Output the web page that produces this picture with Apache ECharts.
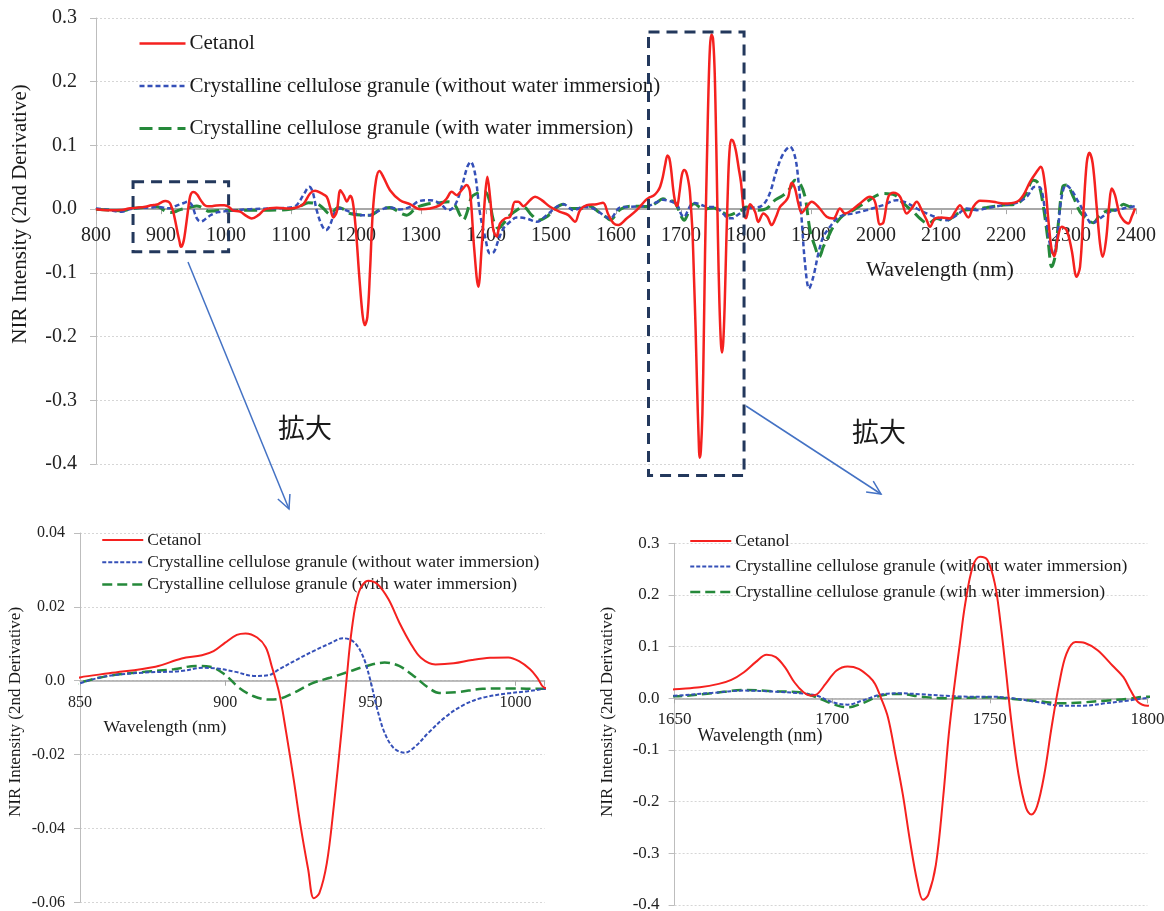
<!DOCTYPE html>
<html><head><meta charset="utf-8">
<script src="https://cdn.jsdelivr.net/npm/echarts@6/dist/echarts.min.js"></script>
<style>html,body{margin:0;padding:0;background:#fff}#c{width:1164px;height:911px}</style>
</head><body><div id="c"></div>
<script>
// ---------------- data ----------------
const seriesNames = ['Cetanol',
  'Crystalline cellulose granule (without water immersion)',
  'Crystalline cellulose granule (with water immersion)'];

// wavelength (nm), 2nd-derivative NIR intensity
const cetanol = [
[800,0],[821,-0.0016],[840,-0.0012],
[850,0.0009],[860,0.002],[876,0.0038],[885,0.006],[892,0.0069],[896,0.008],[900,0.0103],[904,0.0124],[907,0.0128],[911,0.0117],[914,0.009],[916,0.004],[918.6,-0.0033],[921,-0.014],[923.6,-0.0268],[926,-0.0395],[928.6,-0.0512],[930.5,-0.0589],[932.4,-0.0576],[935,-0.0494],[937.4,-0.034],[940,-0.0141],[941.8,0.0004],[943.6,0.0139],[946,0.0239],[949.3,0.0271],[952.4,0.0262],[956.2,0.0221],[960,0.0157],[963.7,0.0103],[967.4,0.0062],[972.4,0.0044],[978.7,0.0047],[985,0.0056],[991.2,0.0062],[997.5,0.0063],[1001.2,0.0053],[1005,0.0031],[1007.5,0.0008],[1010,-0.0019],
[1021.6,-0.004],[1031.8,-0.011],[1039.5,-0.0147],[1049.8,-0.0094],[1060,-0.0005],[1078,0.002],[1098.5,0.001],[1108.7,0.0026],[1119,0.0078],[1129.3,0.0246],[1137,0.0288],[1147.2,0.0246],[1154.9,0.0194],[1160,0.0037],[1165.2,-0.013],[1170.3,-0.0042],[1176,0.0298],[1181,0.022],[1186,0.012],[1191,0.021],[1195,0.012],[1200,-0.035],[1205,-0.105],[1210,-0.165],[1213.5,-0.182],[1217.5,-0.169],[1221.6,-0.096],[1225.7,-0.0068],[1230.8,0.0455],[1236,0.06],[1242,0.0508],[1252.3,0.0298],[1267.7,0.0141],[1283,0.0078],[1298.5,0.0],[1313.9,0.001],[1329.3,0.0063],[1339.5,0.0167],[1347.2,0.0272],[1354.9,0.022],[1362.6,0.0298],[1370.3,0.0377],[1375.4,0.0272],[1381.6,-0.059],[1388.2,-0.122],[1393.4,-0.059],[1398.5,0.0194],[1402.1,0.0508],[1406.2,0.0194],[1411.3,-0.033],[1416.4,-0.043],[1421.6,-0.0225],[1429.3,-0.0147],[1437,-0.012],[1444.6,0.0115],[1449.8,0.0115],[1457.5,0.0047],[1467.7,0.0141],[1475.4,0.0194],[1485.7,0.0141],[1498.5,0.0037],[1513.9,-0.0042],[1526.7,-0.0094],[1537,-0.0199],[1544.6,-0.0016],[1554.9,0.0063],[1570.3,0.0078],[1580,0.01],[1588,-0.008],[1596,-0.022],[1603.6,-0.025],[1616.4,-0.0147],[1631.8,-0.0016],[1645,0.0135],
[1650,0.0175],[1658,0.0214],[1664,0.0279],[1668,0.0356],[1672,0.0505],[1675.7,0.07],[1679.2,0.0843],[1682.1,0.0797],[1685,0.0603],[1688,0.0311],[1690.9,0.0117],[1693.2,0.0052],[1695,0.0071],[1697.9,0.0279],[1701.4,0.0538],[1704.9,0.0616],[1708.4,0.057],[1711.9,0.0408],[1713.6,0.0279],[1715.4,0.002],[1717.7,-0.037],[1720,-0.108],[1722.4,-0.186],[1724.7,-0.277],[1727,-0.355],[1728.8,-0.39],[1730.5,-0.38],[1732.9,-0.322],[1735.2,-0.192],[1737,-0.069],[1738.7,0.021],[1740.5,0.106],[1742.2,0.183],[1744.6,0.255],[1746.9,0.274],[1749.2,0.268],[1751.6,0.222],[1753.3,0.151],[1755.1,0.054],[1756.8,-0.043],[1759.1,-0.147],[1761.5,-0.212],[1763.2,-0.225],[1765,-0.209],[1767.3,-0.147],[1769.6,-0.056],[1772,0.028],[1774.3,0.086],[1777.2,0.109],[1780.2,0.107],[1784.2,0.093],[1788.9,0.0635],[1792.4,0.041],[1794.7,0.015],[1797.1,-0.0078],[1800,-0.0143],
[1806.2,0.0078],[1813.9,-0.004],[1819,-0.02],[1826.7,-0.0068],[1832.8,-0.012],[1839.5,-0.025],[1846.2,-0.012],[1852.3,0.0037],[1860,0.0115],[1865.1,0.0194],[1870.3,0.0413],[1875.4,0.0324],[1880.5,0.0089],[1885.7,-0.0058],[1893.3,0.0037],[1901,0.0115],[1911.3,0.0037],[1924.1,-0.012],[1934.4,-0.0147],[1944.6,0.001],[1952.3,-0.0068],[1962.6,-0.0016],[1975.4,0.0089],[1990.8,0.0194],[1998.5,0.0115],[2006.2,-0.024],[2011.3,-0.021],[2019,0.0194],[2026.7,0.0256],[2037,0.0194],[2047.2,-0.0068],[2054.9,0.001],[2062.6,0.0115],[2070.3,-0.0016],[2078,-0.0173],[2083.1,-0.0277],[2090.8,-0.0147],[2101,-0.013],[2113.9,-0.0147],[2121.6,-0.0042],[2129.3,0.0063],[2134.4,-0.0016],[2142,-0.013],[2149.8,0.0037],[2160,0.013],[2180.5,0.0115],[2196,0.0089],[2216.4,0.0115],[2226.7,0.022],[2237,0.0429],[2247.2,0.0586],[2253.4,0.0665],[2260,0.0377],[2265.2,-0.0173],[2270.3,-0.064],[2274.4,-0.0738],[2279,-0.0487],[2285.7,-0.0277],[2293.3,-0.033],[2301,-0.064],[2308.7,-0.106],[2313.9,-0.0905],[2319,-0.0068],[2324.1,0.0717],[2328.2,0.0884],[2333.4,0.0717],[2339.5,0.0037],[2344.6,-0.0539],[2348.7,-0.0748],[2353.9,-0.0487],[2359,0.0089],[2362.6,0.0324],[2367.7,0.022],[2374.4,-0.0068],[2380.5,-0.0173],[2388.2,-0.0225],[2393.4,-0.012],[2398.5,0.001]
];

const celluloseDry = [
[800,0.001],[821.6,-0.0016],[839.5,-0.0042],
[850,-0.0007],[859.8,0.0013],[872.3,0.0022],[884.8,0.0026],[892.3,0.0035],[897.3,0.0033],[903.6,0.0024],[909.8,0.0013],[914.9,0.0015],[918.6,0.0031],[924.9,0.0058],[931.1,0.0083],[936.1,0.0101],[940.5,0.0115],[944.3,0.0105],[947.4,0.0067],[949.9,0.0004],[952.4,-0.0078],[954.9,-0.0141],[958,-0.0182],[961.8,-0.0195],[965.6,-0.0177],[970,-0.0141],[976.2,-0.0096],[982.5,-0.0064],[988.7,-0.0046],[997.5,-0.0034],[1003.7,-0.0029],[1010,-0.0022],
[1037,0],[1067.7,0.001],[1098.5,0.0026],[1108.7,0.0063],[1119,0.022],[1128.2,0.035],[1133.3,0.0272],[1139.5,-0.0016],[1147.2,-0.025],[1153.9,-0.033],[1160,-0.025],[1167.7,-0.0042],[1175.4,0.001],[1190,-0.004],[1206,-0.0094],[1221.6,-0.0094],[1237,-0.0016],[1252.3,0.0026],[1267.7,-0.0005],[1283,0.0037],[1298.5,0.013],[1313.9,0.0141],[1329.3,0.0089],[1342,-0.0016],[1352.3,0.0063],[1362.6,0.035],[1371.3,0.0665],[1376.4,0.0743],[1383.1,0.056],[1390.8,-0.0068],[1398.5,-0.043],[1406.2,-0.0696],[1412.3,-0.067],[1419,-0.0487],[1426.7,-0.0304],[1437,-0.0199],[1447.2,-0.013],[1462.6,-0.0147],[1478,-0.0199],[1493.4,-0.0094],[1508.7,0.0037],[1519,0.0078],[1534.4,-0.0016],[1549.8,0.0037],[1565.1,0.001],[1580.5,-0.0094],[1590.8,-0.0147],[1606.2,0.0026],[1621.6,0.0037],[1640,0.0045],
[1650,0.0052],[1661.7,0.0104],[1672.2,0.0149],[1681.5,0.013],[1689.7,0.0097],[1695,0.0052],[1700.2,-0.0078],[1704.9,-0.0123],[1709.5,-0.0045],[1715.4,0.0071],[1721.2,0.0097],[1728.2,0.0078],[1735.2,0.0052],[1743.4,0.0032],[1750.4,0.0032],[1757.4,0.0],[1765.6,-0.0078],[1772.6,-0.0143],[1779.6,-0.0143],[1786.6,-0.0097],[1793.6,-0.0045],[1800,0.0006],
[1806.2,0.002],[1821.6,0.0037],[1834.4,0.0194],[1847.2,0.0612],[1857.5,0.0874],[1867.7,0.0979],[1875.4,0.0822],[1880.5,0.0455],[1885.7,-0.0173],[1890.8,-0.0853],[1897,-0.1245],[1903.6,-0.106],[1911.3,-0.0696],[1919,-0.043],[1929.3,-0.0277],[1939.5,-0.0147],[1949.8,-0.0094],[1965.1,-0.0068],[1985.7,-0.0016],[2000,0.003],[2011.3,0.0063],[2031.8,0.0141],[2047.2,0.01],[2062.6,0.001],[2078,-0.0068],[2093.3,-0.013],[2108.7,-0.0173],[2124.1,-0.0094],[2139.5,0.001],[2154.9,-0.0016],[2175.4,0.0026],[2196,0.0063],[2216.4,0.01],[2231.8,0.0194],[2244.6,0.035],[2252.3,0.034],[2260,-0.0016],[2267.7,-0.0565],[2272.8,-0.0722],[2278,-0.0487],[2285.7,0.0194],[2292.3,0.0377],[2301,0.0298],[2311.3,0.0115],[2321.6,-0.0068],[2331.8,-0.0225],[2344.6,-0.0147],[2360,-0.0042],[2380.5,0.001],[2398.5,0.0047]
];

const celluloseWet = [
[800,0],[821.6,-0.0016],[842,-0.0026],
[850,-0.0005],[859.8,0.0013],[872.3,0.0024],[882.3,0.0031],[889.8,0.004],[894.8,0.0038],[899.8,0.0017],[904.8,-0.0019],[909.8,-0.0042],[914.9,-0.0051],[918.6,-0.0049],[923.6,-0.0033],[929.9,-0.0007],[936.1,0.0008],[942.4,0.0024],[948.7,0.004],[954.9,0.0049],[959.9,0.004],[964.9,0.0013],[970,-0.0019],[973.7,-0.0033],[980,-0.0031],[988.7,-0.0022],[997.5,-0.0021],[1010,-0.0022],
[1037,-0.0016],[1067.7,-0.0016],[1098.5,0],[1113.9,0.0047],[1126.7,0.01],[1139.5,0.0089],[1149.8,0.001],[1160,-0.0078],[1172.8,0.0026],[1180.5,0],[1190.8,-0.0068],[1211.3,-0.0094],[1221.6,-0.0094],[1237,-0.0005],[1252.3,0.0026],[1267.7,-0.0058],[1278,-0.0094],[1293.3,0.0026],[1308.7,0.0078],[1329.3,0.01],[1342,0.0115],[1352.3,0.0063],[1360,-0.0094],[1365.1,-0.0173],[1370.3,-0.0068],[1378,0.0194],[1385.7,0.0246],[1393.4,0.0272],[1398.5,0.0272],[1405.1,0.0141],[1411.3,-0.0173],[1419,-0.0304],[1426.7,-0.0225],[1437,-0.0094],[1447.2,-0.0016],[1457.5,0.0037],[1470.3,-0.0094],[1480.5,-0.0173],[1493.4,-0.012],[1506.2,0.001],[1519,0.0078],[1531.8,0.001],[1544.6,0.001],[1560,0.0047],[1572.8,-0.0042],[1585.6,-0.013],[1591,-0.017],[1606.2,-0.0005],[1621.6,0.0047],[1640,0.0045],
[1650,0.004],[1661.7,0.0097],[1672.2,0.0162],[1681.5,0.0136],[1689.7,0.0117],[1695,0.0019],[1700.2,-0.011],[1704.9,-0.0175],[1709.5,-0.0097],[1715.4,0.0052],[1721.2,0.0084],[1728.2,0.0032],[1735.2,0.0],[1743.4,0.0013],[1750.4,0.0019],[1757.4,-0.0013],[1765.6,-0.0058],[1772.6,-0.0097],[1779.6,-0.0078],[1786.6,-0.0045],[1793.6,-0.0013],[1800,0.0032],
[1806.2,0.0026],[1819,-0.0016],[1831.8,0.001],[1844.6,0.0141],[1857.5,0.022],[1867.7,0.0324],[1875.4,0.0455],[1883.1,0.0403],[1890.8,0.0194],[1898.5,-0.033],[1906.2,-0.059],[1912.8,-0.0748],[1919,-0.059],[1926.7,-0.043],[1934.4,-0.0277],[1949.8,-0.0094],[1965.1,-0.0016],[1985.7,0.0115],[2000,0.021],[2011.3,0.0246],[2029.3,0.022],[2042.1,0.0089],[2057.5,-0.0042],[2067.7,-0.0147],[2080.5,-0.0225],[2093.3,-0.0147],[2106.2,-0.0183],[2119,-0.012],[2134.4,-0.0016],[2149.8,-0.0005],[2170.3,0.0026],[2196,0.0063],[2216.4,0.0078],[2229.3,0.022],[2242.1,0.0455],[2249.8,0.0403],[2257.5,0.0037],[2265.2,-0.0539],[2270.3,-0.0905],[2275.4,-0.0748],[2280.5,-0.0225],[2287.2,0.035],[2293.3,0.0377],[2303.6,0.0194],[2313.9,-0.0042],[2326.7,-0.0173],[2334.4,-0.0215],[2344.6,-0.0094],[2360,-0.0016],[2370.3,-0.0016],[2380.5,0.0078],[2391,0.0037],[2398.5,0.0141]
];

// axis ranges: [min, max, interval]
const mainX = [800, 2400, 100];
const mainY = [-0.4, 0.3, 0.1];
const zoomAX = [850, 1010, 50];
const zoomAY = [-0.06, 0.04, 0.02];
const zoomBX = [1650, 1800, 50];
const zoomBY = [-0.4, 0.3, 0.1];

// zoomed regions marked on the main chart: [x0, x1, yTop, yBottom]
const zoomBoxes = [[857, 1004, 0.043, -0.067], [1650, 1797, 0.278, -0.418]];

const axisTitleY = 'NIR Intensity (2nd Derivative)';
const axisTitleX = 'Wavelength (nm)';
const zoomText = '拡大';

// ---------------- chart ----------------
const SERIF = '"Liberation Serif", "Times New Roman", serif';
const colors = ['#f5211f', '#3550b8', '#25893a'];
const chart = echarts.init(document.getElementById('c'), null, {renderer: 'canvas'});

const H = 911;
const grids = [
  {left: 96, right: 28, top: 18, bottom: 447},
  {left: 80, right: 619.4, top: 533, bottom: 8.7},
  {left: 674.6, right: 16.6, top: 543.3, bottom: 6}
];
const ranges = [[mainX, mainY], [zoomAX, zoomAY], [zoomBX, zoomBY]];
const fontSizes = [20, 16, 17];
const xMargins = [17, 14, 13];
const yMargins = [19, 15, 15];
const yFmt = [
  v => Math.abs(v) < 1e-9 ? '0.0' : v.toFixed(1),
  v => Math.abs(v) < 1e-9 ? '0.0' : v.toFixed(2),
  v => Math.abs(v) < 1e-9 ? '0.0' : v.toFixed(1)
];

const xAxes = [], yAxes = [];
ranges.forEach((r, i) => {
  const [rx, ry] = r;
  const gh = H - grids[i].top - grids[i].bottom;
  const zeroOffset = (0 - ry[0]) / (ry[1] - ry[0]) * gh;   // distance of y=0 above grid bottom
  xAxes.push({
    type: 'value', gridIndex: i, min: rx[0], max: rx[1], interval: rx[2],
    position: 'bottom', offset: -zeroOffset,
    axisLine: {show: true, onZero: false, lineStyle: {color: '#a8a8a8', width: i === 0 ? 2 : 1.5}},
    axisTick: {show: true, length: 5, lineStyle: {color: '#a8a8a8'}},
    axisLabel: {show: true, margin: xMargins[i], fontFamily: SERIF, fontSize: fontSizes[i], color: '#222',
      showMinLabel: true, showMaxLabel: true, hideOverlap: false,
      formatter: v => (Math.abs(v % rx[2]) < 1e-6 ? String(v) : '')},
    splitLine: {show: false}
  });
  yAxes.push({
    type: 'value', gridIndex: i, min: ry[0], max: ry[1], interval: ry[2],
    axisLine: {show: true, onZero: false, lineStyle: {color: '#bdbdbd', width: 1}},
    axisTick: {show: true, length: 6, lineStyle: {color: '#bdbdbd'}},
    axisLabel: {show: true, margin: yMargins[i], fontFamily: SERIF, fontSize: fontSizes[i], color: '#222',
      showMinLabel: true, showMaxLabel: true, formatter: yFmt[i]},
    splitLine: {show: true, lineStyle: {color: '#d6d6d6', type: [2, 2], width: 1}}
  });
});

const dataSets = [cetanol, celluloseDry, celluloseWet];
const styles = [
  [{w: 2.5, t: 'solid'}, {w: 2.5, t: [5, 3]}, {w: 3, t: [13, 6]}],
  [{w: 2, t: 'solid'}, {w: 2, t: [4, 2]}, {w: 2.5, t: [10, 5]}],
  [{w: 2, t: 'solid'}, {w: 2, t: [4, 2]}, {w: 2.5, t: [10, 5]}]
];
const series = [];
[0, 1, 2].forEach(g => {
  [2, 1, 0].forEach(k => {
    series.push({
      name: seriesNames[k], type: 'line', xAxisIndex: g, yAxisIndex: g,
      data: dataSets[k], symbol: 'none', showSymbol: false, smooth: 0.35,
      clip: true, animation: false, emphasis: {disabled: true},
      lineStyle: {color: colors[k], width: styles[g][k].w, type: styles[g][k].t},
      itemStyle: {color: colors[k]}, z: 3 + (2 - k)
    });
  });
});

function legendFor(g, left, top, itemWidth, fontSize, gap) {
  return {
    show: true, orient: 'vertical', left: left, top: top, itemWidth: itemWidth, itemHeight: 12,
    itemGap: gap, selectedMode: false, padding: 0,
    textStyle: {fontFamily: SERIF, fontSize: fontSize, lineHeight: fontSize, color: '#1a1a1a', padding: [0, 0, 0, -1]},
    data: seriesNames.map((n, k) => ({
      name: n,
      lineStyle: {color: colors[k], width: styles[g][k].w, type: styles[g][k].t},
      itemStyle: {color: colors[k], opacity: 0}
    }))
  };
}

const option = {
  backgroundColor: '#fff',
  animation: false,
  grid: grids.map(g => Object.assign({outerBoundsMode: 'none', containLabel: false}, g)),
  xAxis: xAxes,
  yAxis: yAxes,
  legend: [
    legendFor(0, 138, 33, 46, 21, 21.5),
    legendFor(1, 101, 531, 41, 17.5, 4.2),
    legendFor(2, 689, 532, 41, 17.5, 7.5)
  ],
  series: series
};
chart.setOption(option);

// ---------------- annotations ----------------
const ANN = '#23385c';
const ARROW = '#4472c4';
const gfx = [];
zoomBoxes.forEach(b => {
  const p0 = chart.convertToPixel({gridIndex: 0}, [b[0], b[2]]);
  const p1 = chart.convertToPixel({gridIndex: 0}, [b[1], b[3]]);
  gfx.push({type: 'rect', silent: true, z: 10,
    shape: {x: p0[0], y: p0[1], width: p1[0] - p0[0], height: p1[1] - p0[1]},
    style: {fill: 'none', stroke: ANN, lineWidth: 3, lineDash: [11, 7]}});
});
function arrow(x1, y1, x2, y2) {
  const a = Math.atan2(y2 - y1, x2 - x1), L = 15, s = 0.45;
  gfx.push({type: 'line', silent: true, z: 10, shape: {x1, y1, x2, y2}, style: {stroke: ARROW, lineWidth: 1.5}});
  gfx.push({type: 'polyline', silent: true, z: 10,
    shape: {points: [[x2 - L * Math.cos(a - s), y2 - L * Math.sin(a - s)], [x2, y2], [x2 - L * Math.cos(a + s), y2 - L * Math.sin(a + s)]]},
    style: {stroke: ARROW, lineWidth: 1.5, fill: null}});
}
arrow(188, 262, 289, 509);
arrow(746, 406, 881, 494);

function txt(text, x, y, size, rot, family) {
  gfx.push({type: 'text', silent: true, z: 10, x: x, y: y, rotation: rot || 0,
    style: {text: text, fontFamily: family || SERIF, fontSize: size, fill: '#1a1a1a', align: 'center', verticalAlign: 'middle'}});
}
txt(axisTitleY, 20, 214, 21, Math.PI / 2);
txt(axisTitleY, 16, 712, 17, Math.PI / 2);
txt(axisTitleY, 608, 712, 17, Math.PI / 2);
txt(axisTitleX, 940, 270, 21.3);
txt(axisTitleX, 165, 727, 17.7);
txt(axisTitleX, 760, 736, 18);
txt(zoomText, 305, 428, 27, 0, '"Noto Sans CJK JP", sans-serif');
txt(zoomText, 879, 432, 27, 0, '"Noto Sans CJK JP", sans-serif');

chart.setOption({graphic: gfx});
</script>
</body></html>
